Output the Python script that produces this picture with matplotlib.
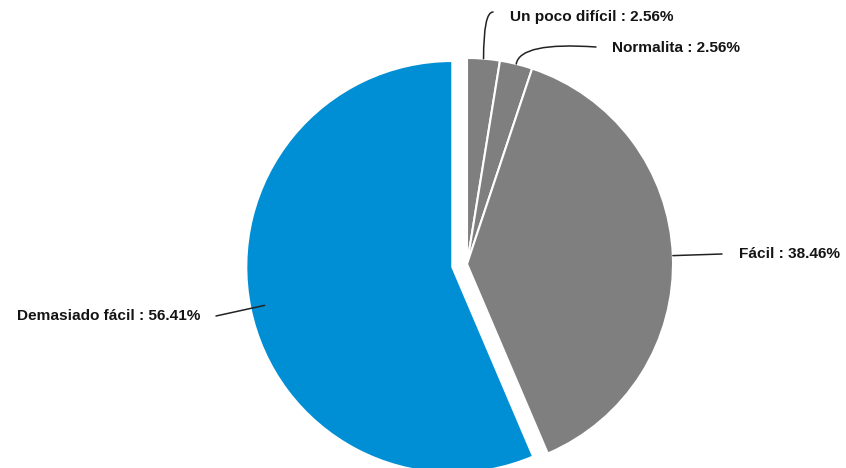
import numpy as np
import matplotlib
matplotlib.use("Agg")
import matplotlib.pyplot as plt

# Chart data
labels = ["Un poco difícil", "Normalita", "Fácil", "Demasiado fácil"]
percents = [2.56, 2.56, 38.46, 56.41]
colors = ["#7f7f7f", "#7f7f7f", "#7f7f7f", "#008fd5"]
explode = [0, 0, 0, 15]

W, H = 846, 468

fig = plt.figure(figsize=(W / 100, H / 100), dpi=100)
ax = fig.add_axes([0, 0, 1, 1])

wedges, _ = ax.pie(percents, colors=colors, startangle=90, counterclock=False,
                   center=(467, H - 264), radius=206, explode=explode,
                   wedgeprops=dict(edgecolor="white", linewidth=1.5))
ax.set_xlim(0, W)
ax.set_ylim(0, H)
ax.set_aspect("equal")
ax.axis("off")


def anchor(w, frac=1.0):
    # point on the outer edge of a wedge at its mid angle
    ang = np.deg2rad((w.theta1 + w.theta2) / 2)
    cx, cy = w.center
    return cx + w.r * frac * np.cos(ang), cy + w.r * frac * np.sin(ang)


font = dict(family="Liberation Sans", weight="bold", fontsize=11.1, color="#141414")
line = dict(arrowstyle="-", color="#222222", lw=1.1, shrinkA=0, shrinkB=0)

# text position (left/right edge, y from top), end of leader line, connection style
layout = [
    ((510, 17, "left"), (493, 12), "angle3,angleA=0,angleB=90"),
    ((612, 48, "left"), (596, 47), "angle3,angleA=-4,angleB=80"),
    ((739, 254, "left"), (722, 254), "arc3,rad=0"),
    ((200, 316, "right"), (216, 316), "arc3,rad=0"),
]

for w, lab, pct, ((tx, ty, ha), (lx, ly), cs) in zip(wedges, labels, percents, layout):
    frac = 0.93 if ha == "right" else 1.0
    ax.annotate("", xy=anchor(w, frac), xytext=(lx, H - ly),
                arrowprops=dict(connectionstyle=cs, **line))
    ax.text(tx, H - ty, f"{lab} : {pct:.2f}%", ha=ha, va="center", **font)

fig.savefig("out.png", dpi=100)
